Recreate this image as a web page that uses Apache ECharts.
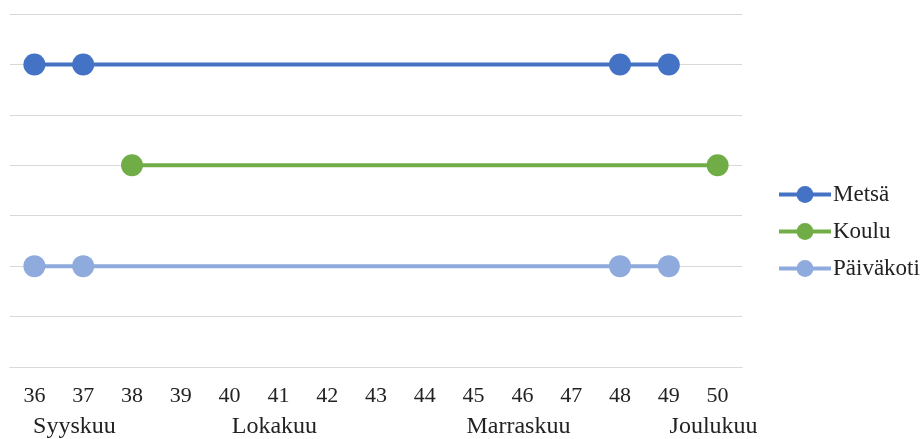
<!DOCTYPE html>
<html>
<head>
<meta charset="utf-8">
<script src="https://cdn.jsdelivr.net/npm/echarts@6/dist/echarts.min.js"></script>
<style>
  html, body { margin: 0; padding: 0; background: #fff; overflow: hidden; }
  #chart { width: 921px; height: 439px; }
</style>
</head>
<body>
<div id="chart"></div>
<script>
// Week numbers on the horizontal axis
const weeks = ['36', '37', '38', '39', '40', '41', '42', '43', '44', '45', '46', '47', '48', '49', '50'];

// Month names and the week under which each is written
const months = ['Syyskuu', 'Lokakuu', 'Marraskuu', 'Joulukuu'];
const monthWeeks = ['36', '41', '46', '50'];

// Row levels for each group (null = no marker that week)
const metsa = [6, 6, null, null, null, null, null, null, null, null, null, null, 6, 6, null];
const koulu = [null, null, 4, null, null, null, null, null, null, null, null, null, null, null, 4];
const paivakoti = [2, 2, null, null, null, null, null, null, null, null, null, null, 2, 2, null];

const seriesNames = ['Metsä', 'Koulu', 'Päiväkoti'];
const seriesColors = ['#4472C4', '#70AD47', '#8FAADC'];
const seriesData = [metsa, koulu, paivakoti];

const font = '"Liberation Serif", "Times New Roman", serif';

const chart = echarts.init(document.getElementById('chart'), null, { renderer: 'canvas' });

chart.setOption({
  animation: false,
  grid: { left: 10, right: 179, top: 14, bottom: 68 },
  legend: {
    orient: 'vertical',
    left: 772,
    top: 178,
    itemWidth: 52,
    itemHeight: 21,
    itemGap: 14,
    lineStyle: { width: 4 },
    textStyle: { fontFamily: font, fontSize: 23, color: '#222', padding: [0, 0, 0, -3] },
    data: seriesNames
  },
  xAxis: [
    {
      type: 'category',
      data: weeks,
      boundaryGap: true,
      axisLine: { lineStyle: { color: '#d9d9d9', width: 1 } },
      axisTick: { length: 6, lineStyle: { color: '#d9d9d9' } },
      axisLabel: { fontFamily: font, fontSize: 22, color: '#222', margin: 18, interval: 0 }
    },
    {
      type: 'category',
      data: weeks,
      position: 'bottom',
      offset: 33,
      boundaryGap: true,
      axisLine: { show: false },
      axisTick: { show: false },
      axisLabel: {
        interval: 0,
        margin: 15,
        formatter: function (v) {
          const i = monthWeeks.indexOf(v);
          if (i < 0) return '';
          return i === 0 ? '{first|' + months[i] + '}' : '{m|' + months[i] + '}';
        },
        rich: {
          first: { fontFamily: font, fontSize: 24, color: '#222', padding: [0, 0, 0, 80] },
          m: { fontFamily: font, fontSize: 24, color: '#222', padding: [0, 8, 0, 0] }
        }
      }
    }
  ],
  yAxis: {
    type: 'value',
    min: 0,
    max: 7,
    interval: 1,
    axisLine: { show: false },
    axisTick: { show: false },
    axisLabel: { show: false },
    splitLine: { lineStyle: { color: '#d9d9d9', width: 1 } }
  },
  series: seriesNames.map(function (name, k) {
    return {
      name: name,
      type: 'line',
      data: seriesData[k],
      connectNulls: true,
      symbol: 'circle',
      symbolSize: 22,
      itemStyle: { color: seriesColors[k] },
      lineStyle: { color: seriesColors[k], width: 4 }
    };
  })
});
</script>
</body>
</html>
